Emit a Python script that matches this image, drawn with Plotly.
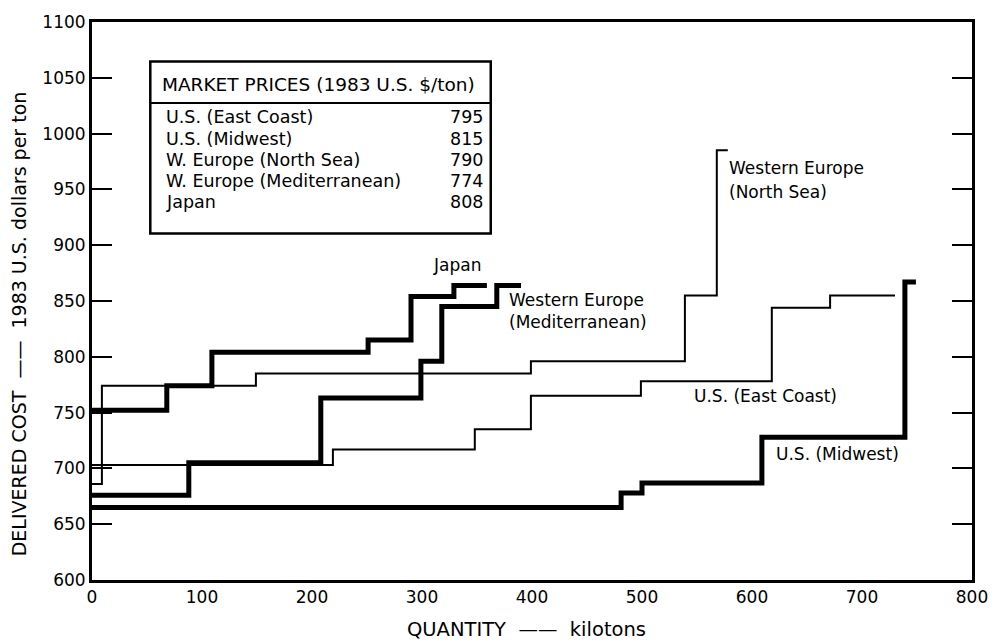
import plotly.graph_objects as go

# Step supply curves: quantity break points (kilotons) and cost levels ($/ton)
japan_x = [0, 68, 109, 251, 290, 329, 359]
japan_y = [752, 774, 804, 815, 854, 864]

med_x = [0, 88, 208, 299, 318, 368, 390]
med_y = [676, 705, 763, 796, 845, 864]

northsea_x = [0, 9, 149, 399, 539, 568, 578]
northsea_y = [686, 774, 785, 796, 855, 985]

eastcoast_x = [0, 219, 348, 399, 499, 618, 671, 730]
eastcoast_y = [703, 717, 735, 765, 778, 844, 855]

midwest_x = [0, 481, 500, 609, 739, 749]
midwest_y = [665, 678, 687, 728, 867]

# Market price table
market_names = ["U.S. (East Coast)", "U.S. (Midwest)", "W. Europe (North Sea)",
                "W. Europe (Mediterranean)", "Japan"]
market_prices = [795, 815, 790, 774, 808]

FONT = "DejaVu Sans, Liberation Sans, Arial, sans-serif"
NB = "\u00a0"
LONG_DASH = "\u2014\u2014"

fig = go.Figure()


def add_step(xs, levels, width, name):
    ys = list(levels) + [levels[-1]]
    fig.add_trace(go.Scatter(
        x=xs, y=ys, mode="lines", line_shape="hv", name=name,
        line=dict(color="black", width=width), showlegend=False,
        hoverinfo="skip"))


add_step(northsea_x, northsea_y, 2, "Western Europe (North Sea)")
add_step(eastcoast_x, eastcoast_y, 2, "U.S. (East Coast)")
add_step(midwest_x, midwest_y, 5, "U.S. (Midwest)")
add_step(med_x, med_y, 5, "Western Europe (Mediterranean)")
add_step(japan_x, japan_y, 5, "Japan")

# Curve labels
labels = [
    (332, 882, "Japan"),
    (377, 851, "Western Europe"),
    (377, 831, "(Mediterranean)"),
    (577, 969, "Western Europe"),
    (577, 948, "(North Sea)"),
    (545, 765, "U.S. (East Coast)"),
    (620, 713, "U.S. (Midwest)"),
]
for x, y, t in labels:
    xa = "center" if t == "Japan" else "left"
    fig.add_annotation(x=x, y=y, text=t, showarrow=False, xanchor=xa,
                       yanchor="middle", font=dict(size=17, color="black", family=FONT))

# Market price box
box_x0, box_x1 = 53, 362.5
box_top, box_head, box_bot = 1064.5, 1027.5, 910.5
fig.add_shape(type="rect", x0=box_x0, x1=box_x1, y0=box_bot, y1=box_top,
              line=dict(color="black", width=2.5), fillcolor="white", layer="above")
fig.add_shape(type="line", x0=box_x0, x1=box_x1, y0=box_head, y1=box_head,
              line=dict(color="black", width=2))
fig.add_annotation(x=62, y=1044,
                   text="MARKET PRICES (1983 U.S. $/ton)", showarrow=False,
                   xanchor="left", yanchor="middle",
                   font=dict(size=18.5, color="black", family=FONT))
row_step = 19
for i, (n, p) in enumerate(zip(market_names, market_prices)):
    yy = 1014.5 - i * row_step
    fig.add_annotation(x=65, y=yy, text=n, showarrow=False,
                       xanchor="left", yanchor="middle",
                       font=dict(size=17.5, color="black", family=FONT))
    fig.add_annotation(x=357, y=yy, text=str(p), showarrow=False,
                       xanchor="right", yanchor="middle",
                       font=dict(size=17.5, color="black", family=FONT))

# Axis titles
g2 = NB * 2
fig.add_annotation(xref="paper", yref="paper", x=-0.083, y=0.46,
                   text=f"DELIVERED COST{g2}{LONG_DASH}{g2}1983 U.S. dollars per ton",
                   textangle=-90, showarrow=False, xanchor="center", yanchor="middle",
                   font=dict(size=19, color="black", family=FONT))
fig.add_annotation(xref="paper", yref="paper", x=0.494, y=-0.088,
                   text=f"QUANTITY{g2}{LONG_DASH}{g2}kilotons", showarrow=False,
                   xanchor="center", yanchor="middle",
                   font=dict(size=19.5, color="black", family=FONT))

axis_common = dict(showgrid=False, zeroline=False, showline=True, mirror=True,
                   linecolor="black", linewidth=3,
                   tickfont=dict(size=17, color="black", family=FONT))

fig.update_xaxes(range=[0, 800], dtick=100, tick0=0, ticks="", **axis_common)
fig.update_yaxes(range=[600, 1100], dtick=50, tick0=600, ticks="inside", ticklen=20,
                 tickwidth=1.5, tickcolor="black", **axis_common)
# right-hand ticks mirrored inside the frame
fig.update_yaxes(mirror="allticks")

fig.update_layout(width=1000, height=644, plot_bgcolor="white", paper_bgcolor="white",
                  margin=dict(l=92, r=21, t=15, b=64), showlegend=False)

fig.write_html("out.html")
